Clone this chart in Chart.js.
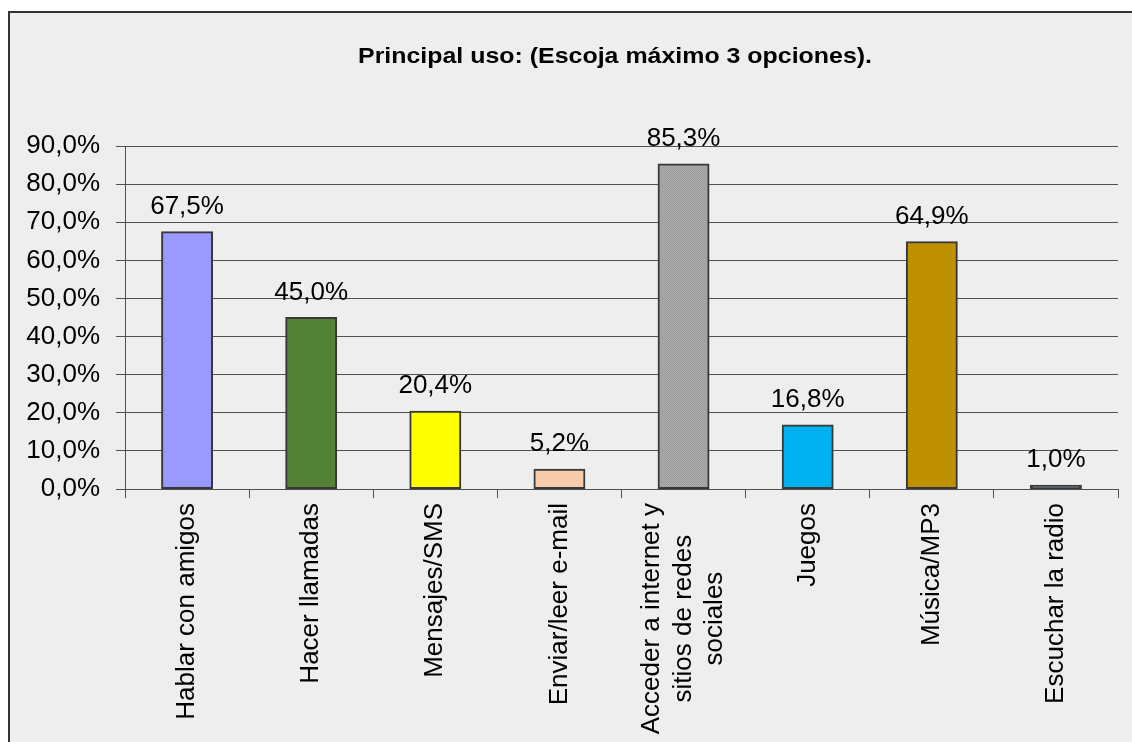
<!DOCTYPE html>
<html lang="es">
<head>
<meta charset="UTF-8">
<title>Principal uso</title>
<script src="https://cdn.jsdelivr.net/npm/chart.js"></script>
<style>
  body { margin: 0; background: #fff; }
  canvas { display: block; }
</style>
</head>
<body>
<canvas id="usoChart" width="1132" height="742"></canvas>
<script>
// categories (multi-line ones as arrays) and percentages
const categorias = [
  'Hablar con amigos',
  'Hacer llamadas',
  'Mensajes/SMS',
  'Enviar/leer e-mail',
  ['Acceder a internet y', 'sitios de redes', 'sociales'],
  'Juegos',
  'Música/MP3',
  'Escuchar la radio'
];
const porcentajes = [67.5, 45.0, 20.4, 5.2, 85.3, 16.8, 64.9, 1.0];
const colores = ['#9999ff', '#538135', '#ffff00', '#f8cbad', 'pattern', '#00b0f0', '#bf9000', '#333f50'];
const titulo = 'Principal uso: (Escoja máximo 3 opciones).';

const FONT = '"Liberation Sans", Arial, sans-serif';
Chart.defaults.font.family = FONT;
Chart.defaults.color = '#000';

// grey dotted fill for the internet bar
function greyPattern() {
  const c = document.createElement('canvas');
  c.width = 2; c.height = 2;
  const g = c.getContext('2d');
  g.fillStyle = '#acacac'; g.fillRect(0, 0, 2, 2);
  g.fillStyle = '#9c9c9c'; g.fillRect(0, 0, 1, 1); g.fillRect(1, 1, 1, 1);
  return g.createPattern(c, 'repeat');
}
const fills = colores.map(c => c === 'pattern' ? greyPattern() : c);

const fmt = v => v.toFixed(1).replace('.', ',') + '%';

// background panel and frame
const frame = {
  id: 'frame',
  beforeDraw(chart) {
    const ctx = chart.ctx;
    ctx.save();
    ctx.fillStyle = '#fff';
    ctx.fillRect(0, 0, chart.width, chart.height);
    ctx.fillStyle = '#eeeeee';
    ctx.fillRect(9, 12, chart.width, chart.height);
    ctx.strokeStyle = '#333';
    ctx.lineWidth = 2;
    ctx.strokeRect(9, 12, chart.width + 10, chart.height + 10);
    ctx.restore();
  }
};

// title, value labels and rotated category labels
const extras = {
  id: 'extras',
  afterDraw(chart) {
    const ctx = chart.ctx;
    ctx.save();
    ctx.fillStyle = '#000';

    // title is stretched a bit wider than the plain bold face
    ctx.font = 'bold 22px ' + FONT;
    ctx.textAlign = 'center';
    ctx.textBaseline = 'alphabetic';
    const tw = ctx.measureText(titulo).width;
    ctx.save();
    ctx.translate(615, 63);
    ctx.scale(514 / tw, 1);
    ctx.fillText(titulo, 0, 0);
    ctx.restore();

    ctx.font = '26px ' + FONT;
    const meta = chart.getDatasetMeta(0);
    meta.data.forEach((bar, i) => {
      ctx.fillText(fmt(porcentajes[i]), bar.x, bar.y - 18);
    });

    const xs = chart.scales.x;
    const top = xs.top + 14;
    categorias.forEach((lab, i) => {
      const lines = Array.isArray(lab) ? lab : [lab];
      const x = xs.getPixelForValue(i);
      const w = Math.max(...lines.map(l => ctx.measureText(l).width));
      ctx.save();
      ctx.translate(x, top);
      ctx.rotate(-Math.PI / 2);
      ctx.textAlign = 'center';
      ctx.textBaseline = 'middle';
      lines.forEach((l, j) => {
        ctx.fillText(l, -w / 2, (j - (lines.length - 1) / 2) * 31.5);
      });
      ctx.restore();
    });
    ctx.restore();
  }
};

new Chart(document.getElementById('usoChart'), {
  type: 'bar',
  data: {
    labels: categorias,
    datasets: [{
      data: porcentajes,
      backgroundColor: fills,
      borderColor: '#383838',
      borderWidth: 2,
      borderSkipped: false,
      inflateAmount: 0.5,
      barPercentage: 0.41,
      categoryPercentage: 1
    }]
  },
  options: {
    responsive: false,
    animation: false,
    layout: { padding: { top: 146, right: 14, left: 0, bottom: 0 } },
    plugins: {
      legend: { display: false },
      title: { display: false },
      tooltip: { enabled: false }
    },
    scales: {
      x: {
        offset: true,
        grid: {
          offset: true,
          drawOnChartArea: false,
          drawTicks: true,
          tickLength: 9,
          color: '#505050'
        },
        border: { color: '#505050', width: 1 },
        ticks: { display: false },
        afterFit(scale) { scale.height = 253; }
      },
      y: {
        min: 0,
        max: 90,
        ticks: {
          stepSize: 10,
          padding: 16,
          font: { size: 26 },
          color: '#000',
          callback: v => fmt(v)
        },
        grid: { color: '#505050', lineWidth: 1, tickLength: 9 },
        border: { color: '#505050', width: 1 },
        afterFit(scale) { scale.width = 125; }
      }
    }
  },
  plugins: [frame, extras]
});
</script>
</body>
</html>
